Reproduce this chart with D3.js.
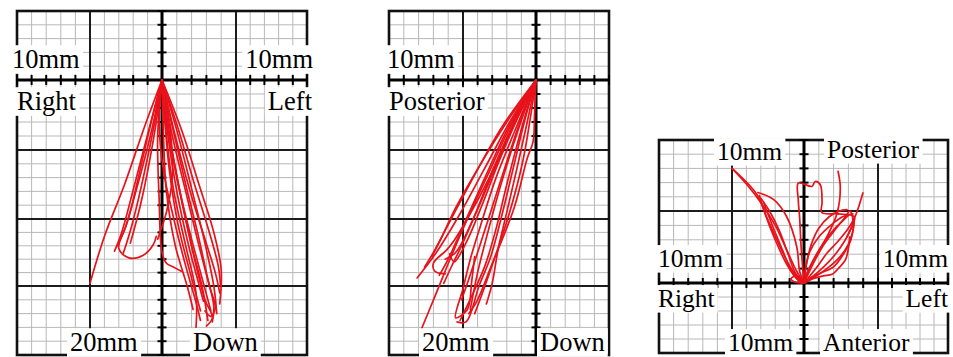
<!DOCTYPE html>
<html><head><meta charset="utf-8">
<script src="https://cdn.jsdelivr.net/npm/d3@7"></script>
<style>body{margin:0;background:#fff}svg{display:block}</style>
</head><body><svg id="c" width="953" height="357"></svg>
<script>
// ---------- DATA (mm; x: right = positive, y: down = positive) ----------
// Panel 1: frontal view (Right/Left vs Down)
const frontalPaths = [
  [[0,0],[-1.2,3.3],[-2.6,7.5],[-4,11.3],[-5,14.8]],
  [[0,0],[-0.9,3.5],[-1.9,7.5],[-2.8,11],[-3.3,12.4]],
  [[0,0],[-0.7,3.5],[-1.6,7.2],[-2.5,10.5],[-3.0,12.2],[-2.3,12.9],[-1.3,12.7],[-0.6,11.9],[-0.4,11.3]],
  [[0,0],[-0.6,3.5],[-1.3,7],[-2.1,10.5],[-2.7,12.6]],
  [[0,0],[-0.4,3],[-0.9,6],[-1.5,9],[-2.2,11.8]],
  [[0,0],[-0.8,3.2],[-1.6,6.8],[-2.4,10.2],[-3.1,12.0]],
  [[0,0],[-0.3,4],[-0.2,8.5],[0,12.5],[0.3,13.3],[0.8,13.6],[1.3,13.9]],
  [[0,0],[0.6,4],[0.7,7],[0.3,9.5],[-0.3,11.5]],
  [[0,0],[0.3,4],[0.8,8],[1.6,12],[2.3,15.5],[2.3,18]],
  [[0,0],[0.5,4],[1.2,8],[2.0,12],[2.7,15],[3.1,17.5]],
  [[0,0],[0.7,4],[1.6,8],[2.5,12],[3.2,15],[3.6,16.6],[3.3,17.2],[2.9,16.8]],
  [[0,0],[0.9,4],[1.9,8],[2.9,11.5],[3.6,14],[3.9,15.5]],
  [[0,0],[1.1,3.5],[2.2,7.5],[3.2,11],[3.8,13.5],[3.95,14.9]],
  [[0,0],[0.4,4],[1.0,8],[1.8,12],[2.4,14.5],[2.8,16.1]],
  [[0,0],[0.6,4.5],[1.4,9],[2.2,13],[2.9,16],[3.4,17.3],[3.0,17.9]],
  [[0,0],[0.2,3],[0.5,6.5],[1.1,10.5],[1.9,14],[2.6,16.8]],
  [[0,0],[0.1,4],[0.3,8],[0.9,12],[1.7,15],[2.1,16.7]],
  [[0,0],[1.3,3.5],[2.5,7.5],[3.5,11],[4.0,13.8],[3.9,16.3]],
  [[0,0],[-0.2,3],[0.1,6.5],[0.8,10],[1.6,13.5],[2.3,16.2],[2.6,17.5]],
  [[0,0],[0.8,3.8],[1.6,7.5],[2.4,11],[3.0,14],[3.5,16.5],[3.4,17.6]],
  [[0,0],[1.0,3.6],[2.0,7.8],[2.9,11.8],[3.5,15],[3.7,17.0]],
  [[0,0],[0.4,3.5],[1.1,7.5],[2.0,11.5],[2.8,14.8],[3.3,16.8]]
];
// Panel 2: sagittal view (Posterior vs Down)
const sagittalPaths = [
  [[0,0],[-1.8,3],[-3.6,6.5],[-5.3,9.8],[-6.8,12.5],[-8.1,14.4]],
  [[0,0],[-1.7,3.2],[-3.3,6.8],[-4.7,10],[-5.8,12.8],[-6.8,15.5],[-7.8,18.1]],
  [[0,0],[-1.6,3.3],[-3.2,7],[-4.6,9.8],[-5.6,11.6],[-6.1,12.3],[-7.0,13.3],[-6.9,13.9],[-6.2,14.1]],
  [[0,0],[-1.4,3.5],[-2.8,7.2],[-3.8,10.5],[-4.5,13],[-5.0,15.2],[-5.5,17.3],[-4.7,16.7],[-4.4,14.6],[-4.2,12.8]],
  [[0,0],[-1.2,3.5],[-2.4,7.5],[-3.3,11],[-4.0,14],[-4.5,16.7]],
  [[0,0],[-1.5,3.2],[-3.0,6.8],[-4.3,10],[-5.5,12.5],[-6.2,13.0]],
  [[0,0],[-2.0,3],[-3.9,6.2],[-5.5,9.2],[-6.5,11.5],[-7.1,12.8]],
  [[0,0],[-1.0,3.5],[-2.0,7.5],[-2.8,11],[-3.5,13.5],[-4.3,15.5],[-5.2,17.5]],
  [[0,0],[-0.1,2.5],[-0.2,4.4],[-0.6,5.6],[-1.5,9.2],[-3.1,13.6],[-4.0,16],[-4.6,17]],
  [[0,0],[-1.3,2.8],[-2.6,6],[-3.7,9],[-4.8,11.8],[-5.6,13.2],[-5.9,12.6]],
  [[0,0],[-0.8,3],[-1.6,6.5],[-2.4,10],[-3.1,12.8],[-3.9,15],[-4.8,17.6],[-5.4,17.6]],
  [[0,0],[-2.3,3.3],[-4.2,6.8],[-5.8,10],[-6.9,12.3],[-7.6,13.6]],
  [[0,0],[-0.6,3],[-1.3,6.3],[-2.0,9.5],[-2.6,12.3],[-3.0,14.8],[-3.4,16.3]],
  [[0,0],[-1.9,3.4],[-3.5,7.0],[-4.9,10.3],[-6.0,13.0],[-6.6,14.2]],
  [[0,0],[-1.1,3.0],[-2.2,6.5],[-3.2,9.8],[-4.0,12.5],[-4.7,14.8],[-5.1,16.0]],
  [[0,0],[-0.4,2.8],[-0.9,5.8],[-1.8,9.5],[-2.8,12.8],[-3.7,15.6],[-4.2,17.0]],
  [[0,0],[-1.5,3.0],[-2.9,6.3],[-4.1,9.5],[-5.1,12.0],[-5.8,13.6],[-6.3,14.8]]
];
// Panel 3: horizontal view (Right/Left vs Posterior(-)/Anterior(+))
const horizontalPaths = [
  [[-5.0,-8.0],[-4.0,-6.9],[-3.0,-5.6],[-2.0,-4.0],[-1.2,-2.3],[-0.5,-0.8],[0,0]],
  [[-5.0,-8.0],[-3.3,-6.2],[-2.6,-4.6],[-1.8,-2.8],[-1.0,-1.2],[-0.3,-0.2],[0,0]],
  [[-3.2,-6.3],[-2.1,-5.8],[-1.2,-4.6],[-0.5,-2.5],[-0.3,-0.8],[0,0]],
  [[-3.1,-6.1],[-2.7,-4.8],[-2.0,-3.0],[-1.2,-1.3],[-0.5,-0.3],[0,0]],
  [[-2.8,-5.6],[-2.2,-4.0],[-1.5,-2.3],[-0.9,-0.9],[-0.3,-0.1],[0.1,0]],
  [[-3.0,-5.9],[-2.4,-5.0],[-1.7,-3.6],[-1.1,-2.0],[-0.6,-0.7],[0,0]],
  [[0,0],[-0.2,-2.5],[-0.3,-4.5],[-0.4,-5.8],[-0.39,-6.97],[0.53,-6.73],[0.76,-7.08],[1.1,-6.85],[1.22,-5.6],[1.2,-4.9],[2.3,-4.8],[3.4,-4.6],[3.1,-3.6],[2.2,-2.1],[1.0,-0.8],[0,0]],
  [[2.3,-7.8],[2.45,-6.7],[2.25,-4.9],[1.56,-3.24],[0.64,-1.61],[0.05,-0.3],[0,0]],
  [[0,0],[0.8,-1.0],[1.56,-2.08],[2.3,-2.9],[2.94,-3.71],[3.4,-4.5],[3.63,-5.1],[3.98,-6.27]],
  [[0,0],[0.6,-1.3],[1.3,-2.6],[2.1,-3.7],[2.8,-4.6],[3.1,-5.0],[3.3,-4.3],[2.9,-3.2]],
  [[0,0],[1.0,-0.6],[1.8,-1.2],[2.5,-1.9],[3.0,-2.7],[3.3,-3.6],[3.4,-4.5]],
  [[0,0],[0.5,-0.4],[1.1,-0.68],[2.02,-1.14],[2.71,-2.08],[3.17,-3.0],[3.4,-4.41]],
  [[0,0],[0.3,-0.9],[0.8,-1.9],[1.4,-2.9],[2.0,-3.7],[2.6,-4.3],[3.0,-4.7]],
  [[0,0],[0.2,-1.5],[0.5,-2.7],[1.0,-3.8],[1.7,-4.6],[2.4,-5.0],[2.9,-5.1]],
  [[0,0],[0.6,-0.3],[1.3,-0.5],[1.9,-0.6],[2.4,-1.1],[2.8,-1.6],[3.0,-2.4],[3.1,-3.2]],
  [[0,0],[0.1,-1.0],[0.4,-2.2],[1.0,-3.2],[1.8,-4.0],[2.6,-4.6],[3.3,-4.8]],
  [[0,0],[-0.5,-0.5],[-0.9,-0.3],[-0.6,-0.05],[0,0]]
];
// Labels
const frontalLabels = ["10mm", "10mm", "Right", "Left", "20mm", "Down"];
const sagittalLabels = ["10mm", "Posterior", "20mm", "Down"];
const horizontalLabels = ["10mm", "Posterior", "10mm", "10mm", "Right", "Left", "10mm", "Anterior"];

// ---------- DRAWING ----------
const svg = d3.select("#c");
const RED = "#e8121a";

function drawPanel(p) {
  const g = svg.append("g");
  const x = d3.scaleLinear().domain(p.xd).range(p.xr);
  const y = d3.scaleLinear().domain(p.yd).range(p.yr);
  const xmin = p.xd[0], xmax = p.xd[p.xd.length - 1];
  const ymin = p.yd[0], ymax = p.yd[p.yd.length - 1];
  const xs = d3.range(xmin, xmax + 1), ys = d3.range(ymin, ymax + 1);

  // minor grid
  g.append("g").selectAll("line").data(xs.filter(d => d % 5 !== 0)).join("line")
    .attr("x1", d => x(d)).attr("x2", d => x(d)).attr("y1", y(ymin)).attr("y2", y(ymax))
    .attr("stroke", "#b8b8b8").attr("stroke-width", 1);
  g.append("g").selectAll("line").data(ys.filter(d => d % 5 !== 0)).join("line")
    .attr("y1", d => y(d)).attr("y2", d => y(d)).attr("x1", x(xmin)).attr("x2", x(xmax))
    .attr("stroke", "#b8b8b8").attr("stroke-width", 1);
  // major grid
  g.append("g").selectAll("line").data(xs.filter(d => d % 5 === 0 && d !== 0)).join("line")
    .attr("x1", d => x(d)).attr("x2", d => x(d)).attr("y1", y(ymin)).attr("y2", y(ymax))
    .attr("stroke", "#1c1c1c").attr("stroke-width", 2);
  g.append("g").selectAll("line").data(ys.filter(d => d % 5 === 0 && d !== 0)).join("line")
    .attr("y1", d => y(d)).attr("y2", d => y(d)).attr("x1", x(xmin)).attr("x2", x(xmax))
    .attr("stroke", "#1c1c1c").attr("stroke-width", 2);
  // frame
  g.append("rect").attr("x", x(xmin)).attr("y", y(ymin))
    .attr("width", x(xmax) - x(xmin)).attr("height", y(ymax) - y(ymin))
    .attr("fill", "none").attr("stroke", "#111").attr("stroke-width", 2.6);
  // axes
  g.append("line").attr("x1", x(xmin)).attr("x2", x(xmax)).attr("y1", y(0)).attr("y2", y(0))
    .attr("stroke", "#000").attr("stroke-width", 3);
  g.append("line").attr("x1", x(0)).attr("x2", x(0)).attr("y1", y(ymin)).attr("y2", y(ymax))
    .attr("stroke", "#000").attr("stroke-width", 3);
  // axis ticks (1mm)
  g.append("g").selectAll("line").data(xs).join("line")
    .attr("x1", d => x(d)).attr("x2", d => x(d)).attr("y1", y(0) - 5).attr("y2", y(0) + 5)
    .attr("stroke", "#000").attr("stroke-width", 2);
  g.append("g").selectAll("line").data(ys).join("line")
    .attr("y1", d => y(d)).attr("y2", d => y(d)).attr("x1", x(0) - 4.5).attr("x2", x(0) + 4.5)
    .attr("stroke", "#000").attr("stroke-width", 2);

  // trajectories
  const line = d3.line().x(d => x(d[0])).y(d => y(d[1])).curve(d3.curveCatmullRom.alpha(0.5));
  g.append("g").selectAll("path").data(p.paths).join("path")
    .attr("d", line).attr("fill", "none").attr("stroke", RED)
    .attr("stroke-width", 1.7).attr("stroke-linejoin", "round").attr("stroke-linecap", "round");

  // labels with white background
  p.labels.forEach((t, i) => {
    const pos = p.labelPos[i];
    const lg = g.append("g");
    const txt = lg.append("text").text(t)
      .attr("x", pos[0]).attr("y", pos[1]).attr("text-anchor", pos[2])
      .attr("font-family", "Liberation Serif, Times New Roman, serif")
      .attr("font-size", p.fs + "px").attr("fill", "#000");
    const bb = txt.node().getBBox();
    const top = pos[1] - 0.86 * p.fs;
    lg.insert("rect", "text").attr("x", bb.x - 3).attr("width", bb.width + 6)
      .attr("y", top).attr("height", Math.min(1.08 * p.fs, 357 - top))
      .attr("fill", "#fff");
  });
}

drawPanel({
  xd: [-10, -5, 0, 5, 10], xr: [17, 90, 162, 236, 307],
  yd: [-5, 0, 5, 10, 15, 20], yr: [11, 80, 150, 219, 286, 355],
  paths: frontalPaths, labels: frontalLabels, fs: 26.5,
  labelPos: [[12, 68, "start"], [313, 68, "end"], [17, 110, "start"], [312, 110, "end"], [70, 351, "start"], [193, 351, "start"]]
});
drawPanel({
  xd: [-10, -5, 0, 5], xr: [389, 463, 536, 609],
  yd: [-5, 0, 5, 10, 15, 20], yr: [11, 80, 150, 219, 286, 355],
  paths: sagittalPaths, labels: sagittalLabels, fs: 26.5,
  labelPos: [[387, 68, "start"], [389, 110, "start"], [422, 351, "start"], [540, 351, "start"]]
});
drawPanel({
  xd: [-10, -5, 0, 5, 10], xr: [659, 732, 804, 878, 948],
  yd: [-10, -5, 0, 5], yr: [140, 211, 283, 353],
  paths: horizontalPaths, labels: horizontalLabels, fs: 25.5,
  labelPos: [[717, 160, "start"], [827, 158, "start"], [658, 267, "start"], [948, 267, "end"], [658, 307, "start"], [948, 307, "end"], [728, 351, "start"], [823, 351, "start"]]
});
</script>
</body></html>
